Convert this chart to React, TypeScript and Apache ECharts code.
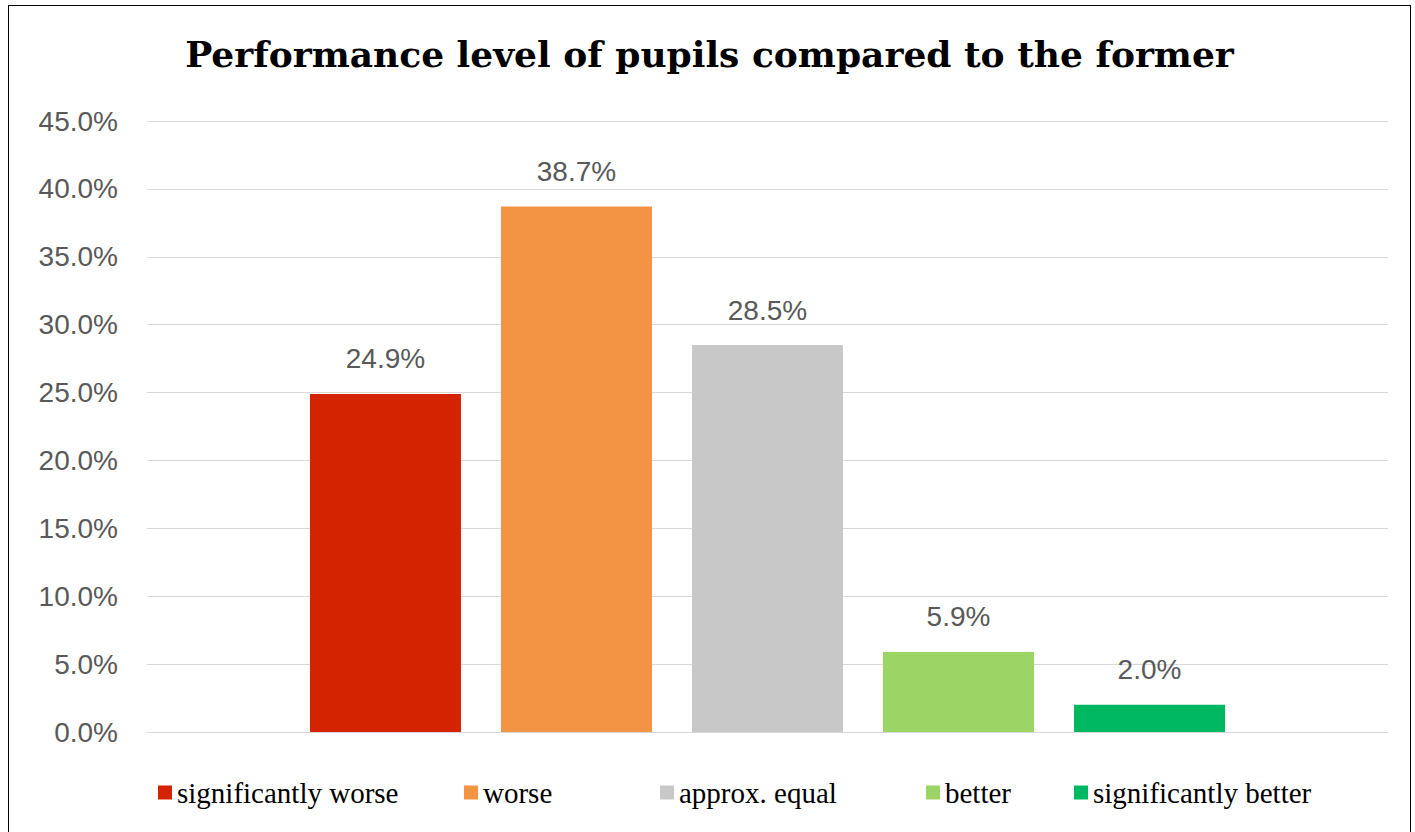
import React, { useEffect, useRef } from "react";
import * as echarts from "echarts";

const seriesNames = ["significantly worse", "worse", "approx. equal", "better", "significantly better"];
const seriesValues = [24.9, 38.7, 28.5, 5.9, 2.0];
const seriesColors = ["#D32300", "#F39444", "#C8C8C8", "#9CD466", "#00B862"];
const legendLefts = [144, 450, 646, 912, 1060];
const yTicks = { min: 0, max: 45, interval: 5 };
const categories = [""];

const serifFont = "Liberation Serif";

export default function App() {
  const ref = useRef<HTMLDivElement>(null);
  useEffect(() => {
    if (!ref.current) return;
    const chart = echarts.init(ref.current, undefined, { renderer: "svg" });
    const legendText = { fontFamily: serifFont, fontSize: 29, color: "#000000" };
    chart.setOption({
      animation: false,
      backgroundColor: "#ffffff",
      title: {
        text: "Performance level of pupils compared to the former",
        left: "center",
        top: 25,
        textStyle: {
          fontFamily: "DejaVu Serif",
          fontWeight: "bold",
          fontSize: 36,
          color: "#000000",
        },
      },
      legend: seriesNames.map((n, i) => ({
        data: [n],
        left: legendLefts[i],
        top: 767,
        itemWidth: 14,
        itemHeight: 14,
        icon: "rect",
        itemGap: 0,
        textStyle: legendText,
      })),
      grid: { left: 138, top: 115, width: 1241, height: 611, containLabel: false },
      xAxis: {
        type: "category",
        data: categories,
        axisLine: { show: true, lineStyle: { color: "#D9D9D9", width: 1 } },
        axisTick: { show: false },
        axisLabel: { show: false },
      },
      yAxis: {
        type: "value",
        min: yTicks.min,
        max: yTicks.max,
        interval: yTicks.interval,
        axisLine: { show: false },
        axisTick: { show: false },
        splitLine: { lineStyle: { color: "#D9D9D9", width: 1 } },
        axisLabel: {
          margin: 29,
          fontFamily: "Liberation Sans",
          fontSize: 28,
          color: "#595959",
          formatter: (v: number) => v.toFixed(1) + "%",
        },
      },
      series: seriesNames.map((n, i) => ({
        name: n,
        type: "bar",
        data: [seriesValues[i]],
        barWidth: 151,
        barGap: "26.5%",
        itemStyle: { color: seriesColors[i] },
        label: {
          show: true,
          position: "top",
          distance: 21,
          fontFamily: "Liberation Sans",
          fontSize: 28,
          color: "#595959",
          formatter: (p: any) => Number(p.value).toFixed(1) + "%",
        },
      })),
    });
    return () => chart.dispose();
  }, []);
  return (
    <div
      style={{
        position: "absolute",
        left: 8,
        top: 5,
        width: 1403,
        height: 827,
        boxSizing: "border-box",
        border: "1px solid #000",
        borderBottom: "none",
        background: "#fff",
      }}
    >
      <div ref={ref} style={{ width: 1401, height: 826 }} />
    </div>
  );
}
